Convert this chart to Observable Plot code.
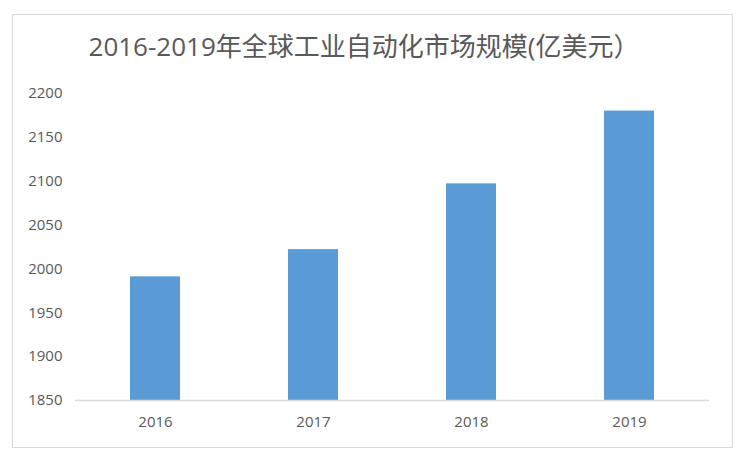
<!DOCTYPE html>
<html>
<head>
<meta charset="utf-8">
<script src="https://cdn.jsdelivr.net/npm/d3@7"></script>
<script src="https://cdn.jsdelivr.net/npm/@observablehq/plot@0.6"></script>
<style>
  html, body { margin: 0; padding: 0; background: #fff; }
  #wrap { position: relative; width: 742px; height: 462px; overflow: hidden; font-family: "Open Sans", "Noto Sans CJK SC", sans-serif; }
  #frame { position: absolute; left: 12px; top: 14px; width: 721px; height: 434px; border: 1px solid #d9d9d9; box-sizing: border-box; }
  #title { position: absolute; left: 0; width: 728px; top: 28px; text-align: center; font-size: 26px; color: #595959; font-family: "Open Sans", "Noto Sans CJK SC", sans-serif; line-height: 36px; font-weight: 400; }
  #chart { position: absolute; left: 0; top: 70px; }
</style>
</head>
<body>
<div id="wrap">
  <div id="frame"></div>
  <div id="title">2016-2019年全球工业自动化市场规模(亿美元）</div>
  <div id="chart"></div>
</div>
<script>
const years = ["2016", "2017", "2018", "2019"];
const values = [1991, 2022, 2097, 2180];
const yTicks = [1850, 1900, 1950, 2000, 2050, 2100, 2150, 2200];
const barColor = "#5B9BD5";

const data = years.map((y, i) => ({year: y, value: values[i]}));

const chart = Plot.plot({
  width: 742,
  height: 380,
  marginLeft: 75,
  marginRight: 33,
  marginTop: 23,
  marginBottom: 50,
  style: {background: "transparent", fontFamily: "'Open Sans', sans-serif", fontSize: "15px", color: "#595959"},
  x: {domain: years, paddingInner: 0.685, paddingOuter: 0.3425, label: null},
  y: {domain: [1850, 2200], label: null},
  marks: [
    Plot.barY(data, {x: "year", y1: 1850, y2: "value", fill: barColor}),
    Plot.ruleY([1850], {stroke: "#d9d9d9", strokeWidth: 1.5}),
    Plot.axisY({ticks: yTicks, tickFormat: d => String(d), tickSize: 0, tickPadding: 13, label: null, fill: "#595959", fontSize: 15}),
    Plot.axisX({tickSize: 0, tickPadding: 16, label: null, fill: "#595959", fontSize: 15})
  ]
});
document.getElementById("chart").appendChild(chart);
</script>
</body>
</html>
